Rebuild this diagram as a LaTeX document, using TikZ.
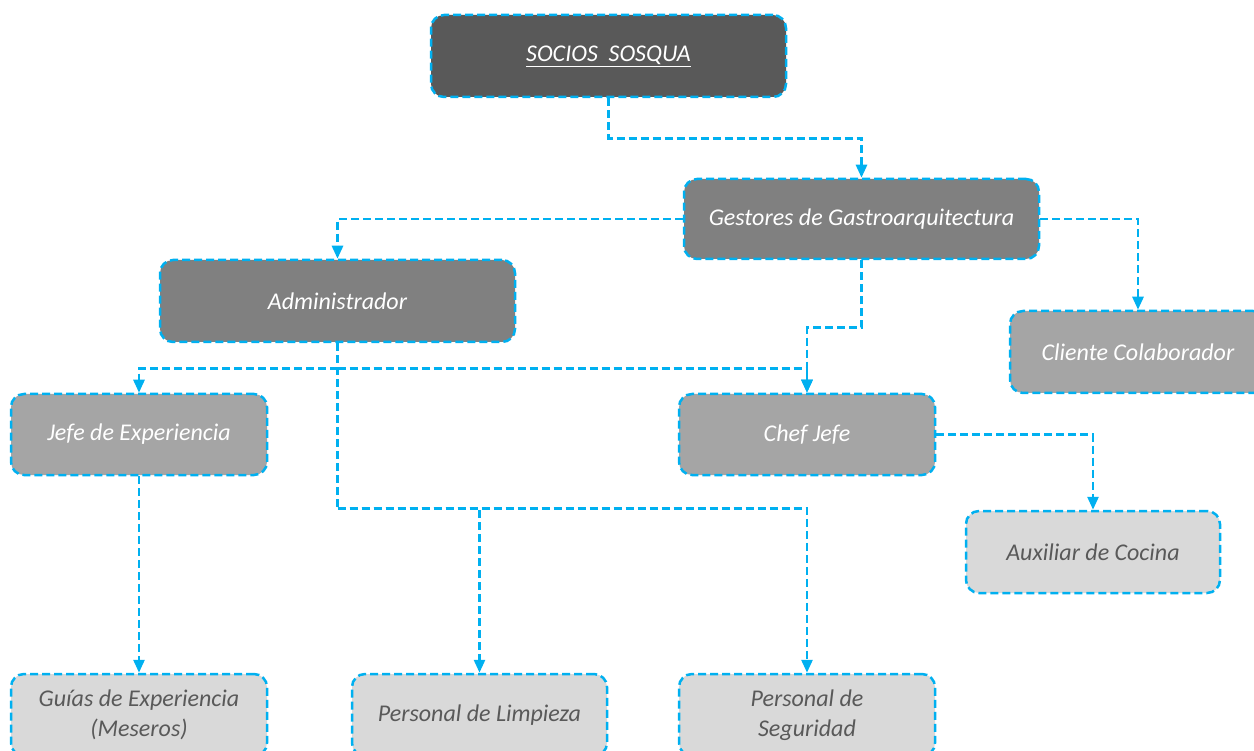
\documentclass[tikz,border=0pt]{standalone}
\usepackage{fontspec}
\setmainfont{Carlito}
\usetikzlibrary{arrows.meta}
\definecolor{lineblue}{HTML}{00B0F0}
\definecolor{darkfill}{HTML}{595959}
\definecolor{midfill}{HTML}{808080}
\definecolor{lightfill}{HTML}{A5A5A5}
\definecolor{palefill}{HTML}{D9D9D9}
\definecolor{paletext}{HTML}{595959}
\tikzset{
  box/.style={draw=lineblue, line width=2.5pt, dash pattern=on 8pt off 4pt,
    rounded corners=13pt, align=center, inner sep=0pt,
    font=\fontsize{24}{30}\selectfont\itshape},
  boxA/.style={box, fill=darkfill, text=white, minimum width=355pt, minimum height=82pt},
  boxB/.style={box, fill=midfill, text=white, minimum width=355pt, minimum height=81pt},
  boxC/.style={box, fill=lightfill, text=white, minimum width=256pt, minimum height=81pt},
  boxD/.style={box, fill=palefill, text=paletext, minimum width=256pt, minimum height=82pt},
  wire/.style={draw=lineblue, line width=2.7pt, dash pattern=on 8pt off 4pt},
  conn/.style={wire, -{Triangle[width=11pt,length=13pt]}}
}
\begin{document}
\begin{tikzpicture}[x=1pt,y=-1pt]
\useasboundingbox (0,0) rectangle (1254,751);
\node[boxA] (socios) at (608.5,56) {\underline{SOCIOS\ \ SOSQUA}};
\node[boxB, minimum height=80pt] (gestores) at (861.5,219) {Gestores de Gastroarquitectura};
\node[boxB, minimum height=82pt] (admin) at (337.5,301) {Administrador};
\node[boxC, minimum height=82pt] (cliente) at (1138,352) {Cliente Colaborador};
\node[boxC] (jefe) at (139,434.5) {Jefe de Experiencia};
\node[boxC] (chef) at (807,434.5) {Chef Jefe};
\node[boxD, minimum width=254pt] (aux) at (1093,552) {Auxiliar de Cocina};
\node[boxD] (guias) at (139,715) {Guías de Experiencia\\(Meseros)};
\node[boxD, minimum width=255pt] (limp) at (479.5,715) {Personal de Limpieza};
\node[boxD] (seg) at (807,715) {Personal de\\Seguridad};

\draw[conn] (socios.south) -- ++(0,40) -| (gestores.north);
\draw[conn] (gestores.west) -| (admin.north);
\draw[conn] (gestores.east) -| (cliente.north);
\draw[conn] (gestores.south) -- ++(0,67) -| (chef.north);
\draw[wire] (admin.south) -- ++(0,165) coordinate (a2);
\draw[wire] (admin.south) -- ++(0,25) coordinate (a1);
\draw[conn] (a1) -| (jefe.north);
\draw[conn] (a1) -| (chef.north);
\draw[conn] (a2) -| (limp.north);
\draw[conn] (a2) -| (seg.north);
\draw[conn] (jefe.south) -- (guias.north);
\draw[conn] (chef.east) -| (aux.north);
\end{tikzpicture}
\end{document}
